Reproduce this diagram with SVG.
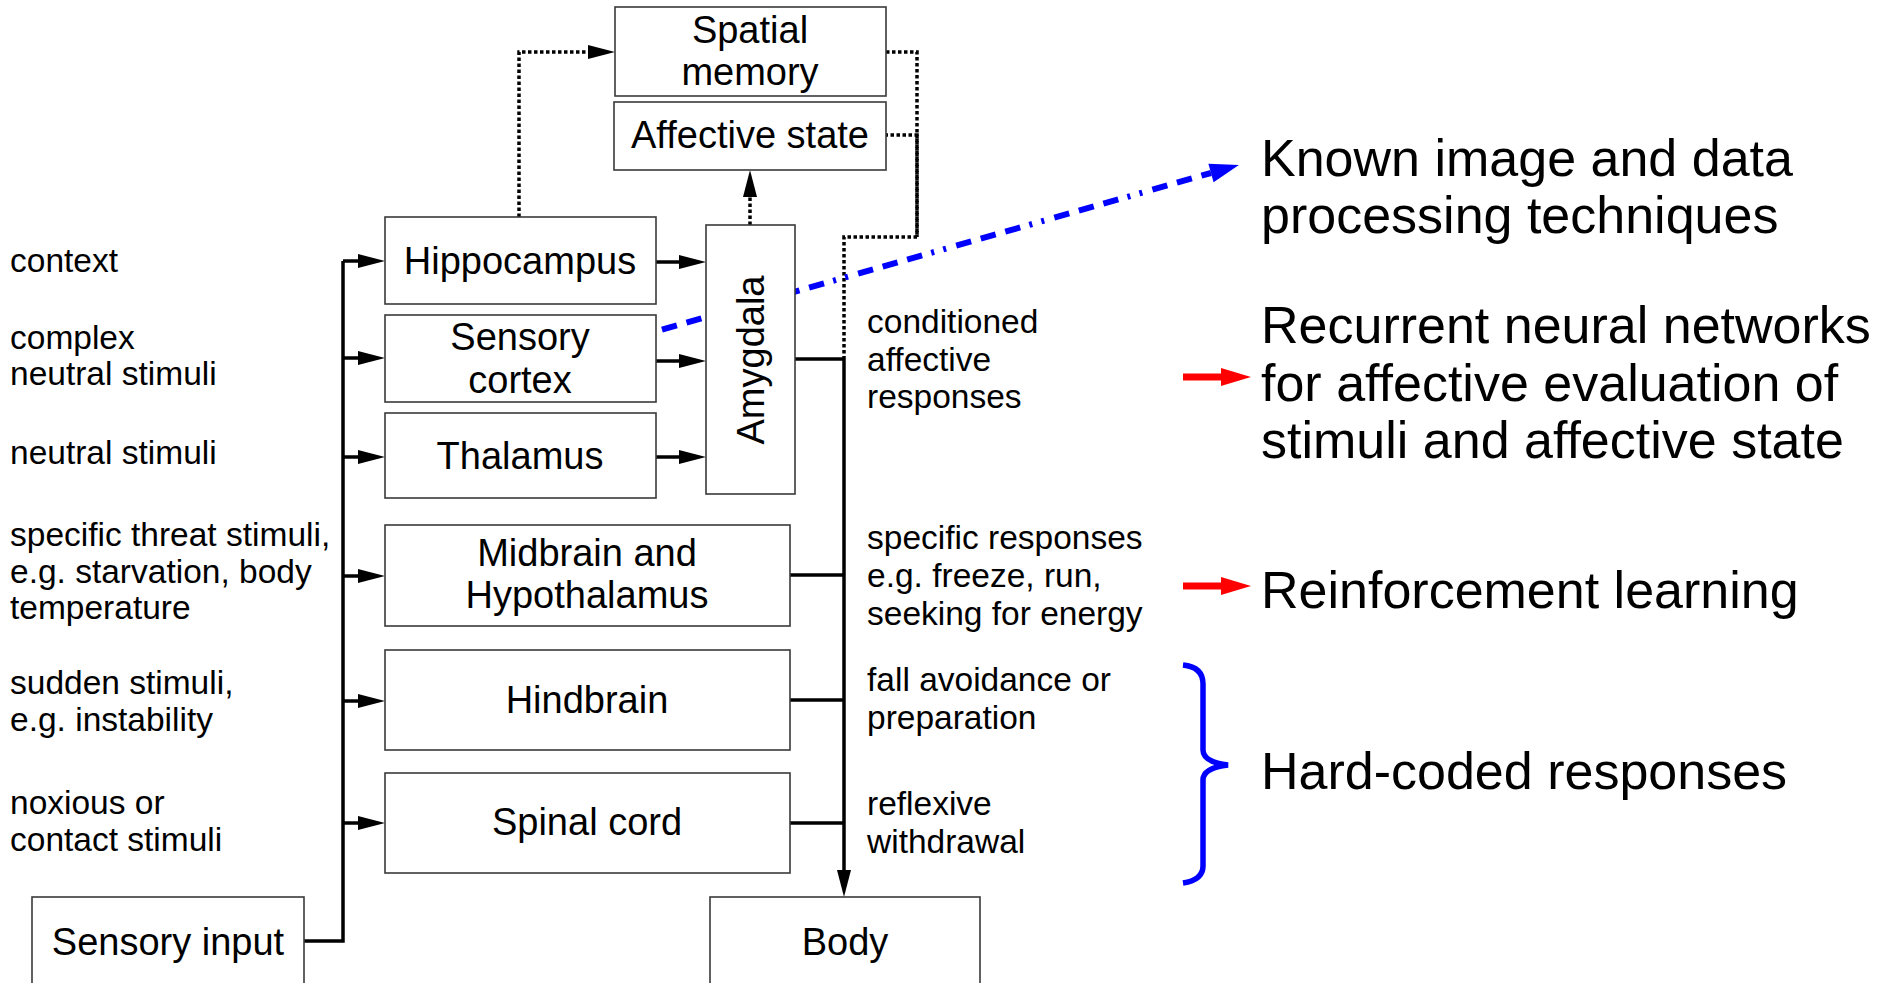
<svg xmlns="http://www.w3.org/2000/svg" width="1883" height="983" viewBox="0 0 1883 983">
<style>
.box{fill:#fff;stroke:#3a3a3a;stroke-width:1.6}
.nt{font-family:"Liberation Sans",Arial,sans-serif;font-size:38px;fill:#000;text-anchor:middle}
.st{font-family:"Liberation Sans",Arial,sans-serif;font-size:33.5px;fill:#000}
.bt{font-family:"Liberation Sans",Arial,sans-serif;font-size:52px;fill:#000}
.ln{fill:none;stroke:#000;stroke-width:3.5}
.dt{fill:none;stroke:#000;stroke-width:3.5;stroke-dasharray:3.5 2.5}
</style>
<defs>
<marker id="ah" markerUnits="userSpaceOnUse" markerWidth="28" markerHeight="16" refX="0" refY="7" orient="auto" overflow="visible">
<path d="M0,0 L27,7 L0,14 z" fill="#000"/>
</marker>
<marker id="bh" markerUnits="userSpaceOnUse" markerWidth="30" markerHeight="20" refX="0" refY="9.5" orient="auto" overflow="visible">
<path d="M0,0 L29,9.5 L0,19 z" fill="#0000ff"/>
</marker>
<marker id="rh" markerUnits="userSpaceOnUse" markerWidth="30" markerHeight="20" refX="0" refY="9" orient="auto" overflow="visible">
<path d="M0,0 L30,9 L0,18 z" fill="#ff0000"/>
</marker>
</defs>

<g id="connectors">
<path class="ln" d="M304,941 H343 V261"/>
<path class="ln" d="M343,261 H358" marker-end="url(#ah)"/>
<path class="ln" d="M343,358 H358" marker-end="url(#ah)"/>
<path class="ln" d="M343,457 H358" marker-end="url(#ah)"/>
<path class="ln" d="M343,576 H358" marker-end="url(#ah)"/>
<path class="ln" d="M343,701 H358" marker-end="url(#ah)"/>
<path class="ln" d="M343,823 H358" marker-end="url(#ah)"/>
<path class="ln" d="M656,262 H679" marker-end="url(#ah)"/>
<path class="ln" d="M656,361 H679" marker-end="url(#ah)"/>
<path class="ln" d="M656,457 H679" marker-end="url(#ah)"/>
<path class="ln" d="M795,359 H844"/>
<path class="ln" d="M790,575 H844"/>
<path class="ln" d="M790,700 H844"/>
<path class="ln" d="M790,823 H844"/>
<path class="ln" d="M844,359 V870" marker-end="url(#ah)"/>
<path class="dt" d="M519,217 V52 H588" marker-end="url(#ah)"/>
<path class="dt" d="M750,225 V197" marker-end="url(#ah)"/>
<path class="dt" d="M886,52 H917 V237 H844 V359"/>
<path class="dt" style="stroke-dashoffset:1.5" d="M886,135 H917 V237"/>
<path fill="none" stroke="#0000ff" stroke-width="6" stroke-dasharray="15.5 10 15.5 10 15.5 9.5 3 9.5 3 10.5" stroke-dashoffset="-27" d="M636,337 L1211,173" marker-end="url(#bh)"/>
<path fill="none" stroke="#ff0000" stroke-width="7" d="M1183,377 H1221" marker-end="url(#rh)"/>
<path fill="none" stroke="#ff0000" stroke-width="7" d="M1183,586 H1221" marker-end="url(#rh)"/>
<path fill="none" stroke="#0000ff" stroke-width="5.5" d="M1183,665 Q1203,667 1203,684 V750 Q1203,762 1228,765 Q1203,768 1203,780 V866 Q1203,880 1183,883"/>
</g>

<g id="spatial-memory"><rect class="box" x="615" y="7" width="271" height="89"/><text class="nt" x="750" y="43">Spatial</text><text class="nt" x="750" y="85">memory</text></g>
<g id="affective-state"><rect class="box" x="614" y="102" width="272" height="68"/><text class="nt" x="750" y="148">Affective state</text></g>
<g id="hippocampus"><rect class="box" x="385" y="217" width="271" height="87"/><text class="nt" x="520" y="274">Hippocampus</text></g>
<g id="sensory-cortex"><rect class="box" x="385" y="315" width="271" height="87"/><text class="nt" x="520" y="350">Sensory</text><text class="nt" x="520" y="393">cortex</text></g>
<g id="thalamus"><rect class="box" x="385" y="413" width="271" height="85"/><text class="nt" x="520" y="469">Thalamus</text></g>
<g id="amygdala"><rect class="box" x="706" y="225" width="89" height="269"/><text class="nt" x="750" y="373.5" transform="rotate(-90 750 360)">Amygdala</text></g>
<g id="midbrain"><rect class="box" x="385" y="525" width="405" height="101"/><text class="nt" x="587" y="566">Midbrain and</text><text class="nt" x="587" y="608">Hypothalamus</text></g>
<g id="hindbrain"><rect class="box" x="385" y="650" width="405" height="100"/><text class="nt" x="587" y="713">Hindbrain</text></g>
<g id="spinal-cord"><rect class="box" x="385" y="773" width="405" height="100"/><text class="nt" x="587" y="835">Spinal cord</text></g>
<g id="sensory-input"><rect class="box" x="32" y="897" width="272" height="100"/><text class="nt" x="168" y="955">Sensory input</text></g>
<g id="body"><rect class="box" x="710" y="897" width="270" height="100"/><text class="nt" x="845" y="955">Body</text></g>

<g id="input-labels">
<text class="st" x="10" y="272">context</text>
<text class="st" x="10" y="349">complex</text>
<text class="st" x="10" y="385">neutral stimuli</text>
<text class="st" x="10" y="464">neutral stimuli</text>
<text class="st" x="10" y="546">specific threat stimuli,</text>
<text class="st" x="10" y="583">e.g. starvation, body</text>
<text class="st" x="10" y="619">temperature</text>
<text class="st" x="10" y="694">sudden stimuli,</text>
<text class="st" x="10" y="731">e.g. instability</text>
<text class="st" x="10" y="814">noxious or</text>
<text class="st" x="10" y="851">contact stimuli</text>
</g>
<g id="output-labels">
<text class="st" x="867" y="333">conditioned</text>
<text class="st" x="867" y="371">affective</text>
<text class="st" x="867" y="408">responses</text>
<text class="st" x="867" y="549">specific responses</text>
<text class="st" x="867" y="587">e.g. freeze, run,</text>
<text class="st" x="867" y="625">seeking for energy</text>
<text class="st" x="867" y="691">fall avoidance or</text>
<text class="st" x="867" y="729">preparation</text>
<text class="st" x="867" y="815">reflexive</text>
<text class="st" x="867" y="853">withdrawal</text>
</g>
<g id="method-labels">
<text class="bt" x="1261" y="176">Known image and data</text>
<text class="bt" x="1261" y="233">processing techniques</text>
<text class="bt" x="1261" y="343">Recurrent neural networks</text>
<text class="bt" x="1261" y="401">for affective evaluation of</text>
<text class="bt" x="1261" y="458">stimuli and affective state</text>
<text class="bt" x="1261" y="608">Reinforcement learning</text>
<text class="bt" x="1261" y="789">Hard-coded responses</text>
</g>
</svg>
